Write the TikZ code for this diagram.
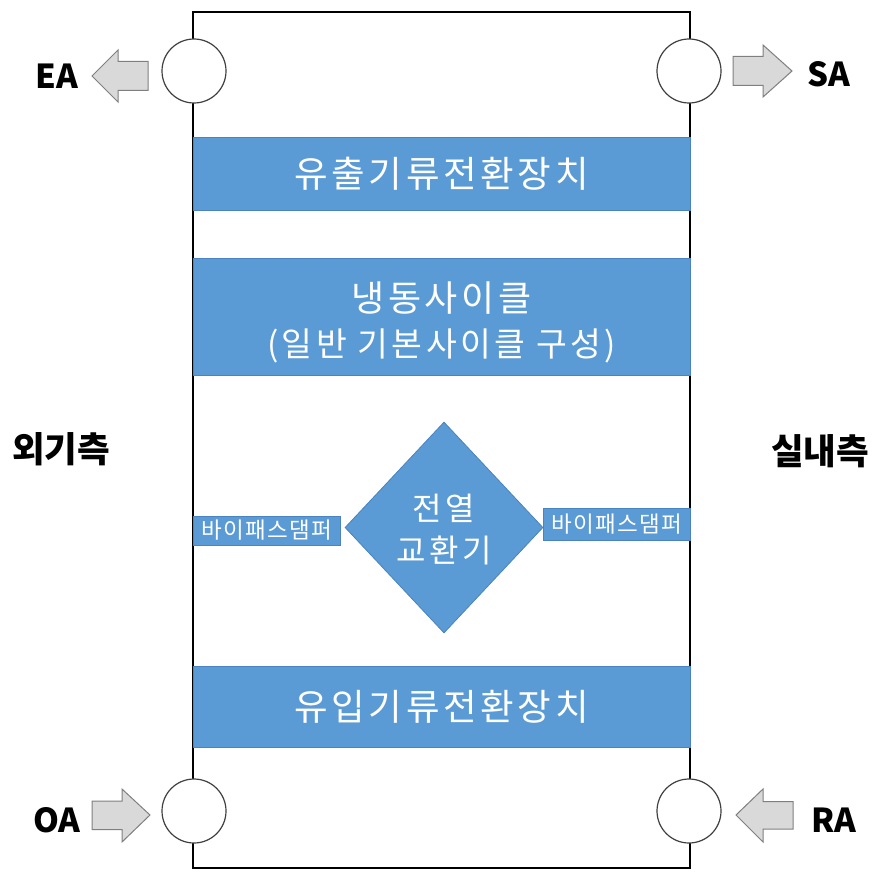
\documentclass[tikz,border=0pt]{standalone}
\usepackage{fontspec}
\setmainfont{Noto Sans CJK KR}
\usetikzlibrary{shapes.geometric}
\definecolor{barblue}{HTML}{5B9BD5}
\definecolor{barline}{HTML}{4A83BF}
\definecolor{arrfill}{HTML}{D9D9D9}
\definecolor{arrline}{HTML}{7F7F7F}
\definecolor{circline}{HTML}{404040}
\begin{document}
\begin{tikzpicture}[x=1pt,y=-1pt,
  bar/.style={fill=barblue, draw=barline, line width=0.8pt, inner sep=0pt},
  bigtext/.style={text=white, font=\fontsize{36.5}{40}\selectfont\addfontfeatures{LetterSpace=10}},
  midtext/.style={text=white, font=\fontsize{32}{42}\selectfont\addfontfeatures{LetterSpace=12}},
  smalltext/.style={text=white, font=\fontsize{22.5}{24}\selectfont\addfontfeatures{LetterSpace=6}},
  port/.style={circle, draw=circline, line width=1.2pt, fill=white, minimum size=64pt, inner sep=0pt},
  flow/.style={fill=arrfill, draw=arrline, line width=1pt, line join=miter},
  tag/.style={font=\fontsize{33}{40}\selectfont\bfseries, text=black},
  sidetag/.style={font=\fontsize{35.5}{40}\selectfont\bfseries, text=black}
]
\useasboundingbox (0,0) rectangle (877,872);
% housing
\draw[line width=2.8pt] (193,12) rectangle (690,868);
% bars
\node[bar, minimum width=497pt, minimum height=73pt] (out) at (441.5,173.5) {};
\node[bigtext] at (out) {유출기류전환장치};
\node[bar, minimum width=497pt, minimum height=117pt] (cyc) at (441.5,316.5) {};
\node[text=white, align=center, font=\fontsize{33.5}{45}\selectfont\addfontfeatures{LetterSpace=10}] at ([yshift=-6pt]cyc.center) {{\fontsize{36}{45}\selectfont 냉동사이클}\\(일반 기본사이클 구성)};
\node[bar, minimum width=497pt, minimum height=81pt] (in) at (441.5,706.5) {};
\node[bigtext] at (in) {유입기류전환장치};
% heat exchanger
\node[diamond, bar, minimum width=198pt, minimum height=211pt, aspect=0.94] (hx) at (444,527.5) {};
\node[midtext, align=center] at ([yshift=-2pt]hx.center) {전열\\교환기};
% bypass dampers
\node[bar, minimum width=147pt, minimum height=29pt] (bpl) at (266.5,530.5) {};
\node[smalltext] at (bpl) {바이패스댐퍼};
\node[bar, minimum width=147pt, minimum height=32pt] (bpr) at (616.5,524) {};
\node[smalltext] at (bpr) {바이패스댐퍼};
% ports
\node[port] (ea) at (194,71) {};
\node[port] (sa) at (689,71) {};
\node[port] (oa) at (194,811) {};
\node[port] (ra) at (689,811) {};
% flow arrows
\draw[flow] (92,76) -- (118,50) -- (118,61.5) -- (148,61.5) -- (148,90.5) -- (118,90.5) -- (118,102) -- cycle;
\draw[flow] (792,71) -- (763,45) -- (763,56.5) -- (733,56.5) -- (733,85.5) -- (763,85.5) -- (763,97) -- cycle;
\draw[flow] (150,815) -- (122,789) -- (122,801) -- (92,801) -- (92,829.5) -- (122,829.5) -- (122,842) -- cycle;
\draw[flow] (736,815) -- (763,789) -- (763,801.5) -- (793,801.5) -- (793,829) -- (763,829) -- (763,842) -- cycle;
% labels
\node[tag] (lea) at (57,76) {EA};
\node[tag] (lsa) at (829,74) {SA};
\node[tag] (loa) at (57,820) {OA};
\node[tag] (lra) at (834,820) {RA};
\node[sidetag] (outside) at (61,449) {외기측};
\node[sidetag] (inside) at (820,451) {실내측};
\end{tikzpicture}
\end{document}
